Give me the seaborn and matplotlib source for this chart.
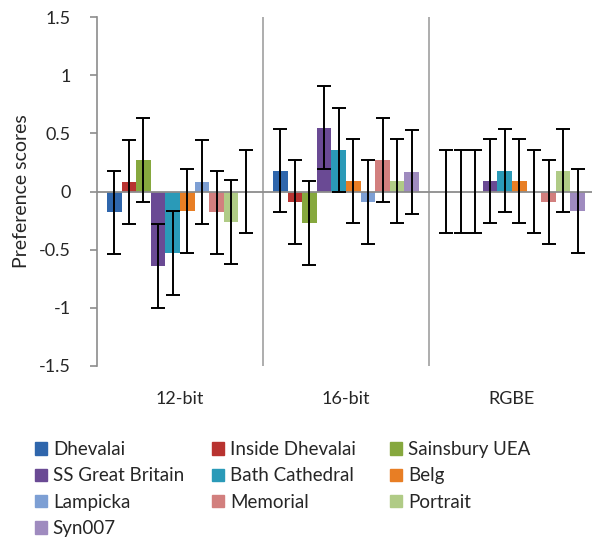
import numpy as np
import pandas as pd
import matplotlib
matplotlib.use("Agg")
import matplotlib.pyplot as plt
import seaborn as sns

# данные
groups = ["12-bit", "16-bit", "RGBE"]
series = ["Dhevalai", "Inside Dhevalai", "Sainsbury UEA", "SS Great Britain",
          "Bath Cathedral", "Belg", "Lampicka", "Memorial", "Portrait", "Syn007"]
colors = ["#2F66AC", "#B83330", "#86A83E", "#6A4A94", "#2A9AB8",
          "#E87E24", "#7D9FD4", "#D27F7E", "#B0CB86", "#9F8BBF"]

scores_12bit = [-0.18, 0.08, 0.27, -0.64, -0.53, -0.17, 0.08, -0.18, -0.26, 0.0]
scores_16bit = [0.18, -0.09, -0.27, 0.55, 0.36, 0.09, -0.09, 0.27, 0.09, 0.17]
scores_rgbe = [0.0, 0.0, 0.0, 0.09, 0.18, 0.09, 0.0, -0.09, 0.18, -0.17]
errors_12bit = [0.36] * 10
errors_16bit = [0.36] * 10
errors_rgbe = [0.36] * 10

rows = []
for g, sc, er in zip(groups, [scores_12bit, scores_16bit, scores_rgbe],
                     [errors_12bit, errors_16bit, errors_rgbe]):
    for s, v, e in zip(series, sc, er):
        rows.append({"group": g, "scene": s, "score": v, "err": e})
df = pd.DataFrame(rows)

sns.set_style("white")
plt.rcParams["font.family"] = ["Lato", "DejaVu Sans"]

fig = plt.figure(figsize=(5.92, 5.39), dpi=100)
ax = fig.add_axes([97 / 592, 1 - 365.7 / 539, 498 / 592, (365.7 - 17.3) / 539])

sns.barplot(data=df, x="group", y="score", hue="scene", order=groups,
            hue_order=series, palette=colors, errorbar=None, width=0.88,
            saturation=1, linewidth=0, ax=ax, legend=False)

# планки погрешностей
for cont, s in zip(ax.containers, series):
    sub = df[df.scene == s].set_index("group").loc[groups]
    xs = [b.get_x() + b.get_width() / 2 for b in cont]
    ax.errorbar(xs, sub.score.values, yerr=sub.err.values, fmt="none",
                ecolor="black", elinewidth=1.4, capsize=5.2, capthick=1.4, zorder=5)

ax.set_xlim(-0.5, 2.5)
ax.set_ylim(-1.5, 1.5)
ax.set_yticks(np.arange(-1.5, 1.51, 0.5))
ax.set_yticklabels(["-1.5", "-1", "-0.5", "0", "0.5", "1", "1.5"])
ax.axhline(0, color="#8C8C8C", lw=1.3, zorder=4)
for xv in [0.5, 1.5]:
    ax.axvline(xv, color="#A0A0A0", lw=1.2, zorder=0)

for sp in ["top", "right", "bottom"]:
    ax.spines[sp].set_visible(False)
ax.spines["left"].set_color("#8C8C8C")
ax.spines["left"].set_linewidth(1.2)
ax.tick_params(axis="y", left=True, length=5, width=1.2, color="#8C8C8C",
               labelsize=13, pad=14)
ax.tick_params(axis="x", length=0, labelsize=13, pad=18)
ax.set_xlabel("")
ax.set_ylabel("Preference scores", fontsize=14, labelpad=6)

# легенда: три колонки, как в Excel (заполнение по строкам)
handles = [plt.Rectangle((0, 0), 1, 1, color=c) for c in colors]
legend_cols = [[0, 3, 6, 9], [1, 4, 7], [2, 5, 8]]
legend_x = [35, 212, 390]
for idx, xpx in zip(legend_cols, legend_x):
    fig.legend([handles[i] for i in idx], [series[i] for i in idx],
               loc="upper left", bbox_to_anchor=(xpx / 592, 1 - 441 / 539),
               frameon=False, fontsize=13.5, handlelength=0.65,
               handleheight=0.65, handletextpad=0.3, labelspacing=0.5,
               borderaxespad=0, borderpad=0)

fig.savefig("out.png", dpi=100)
